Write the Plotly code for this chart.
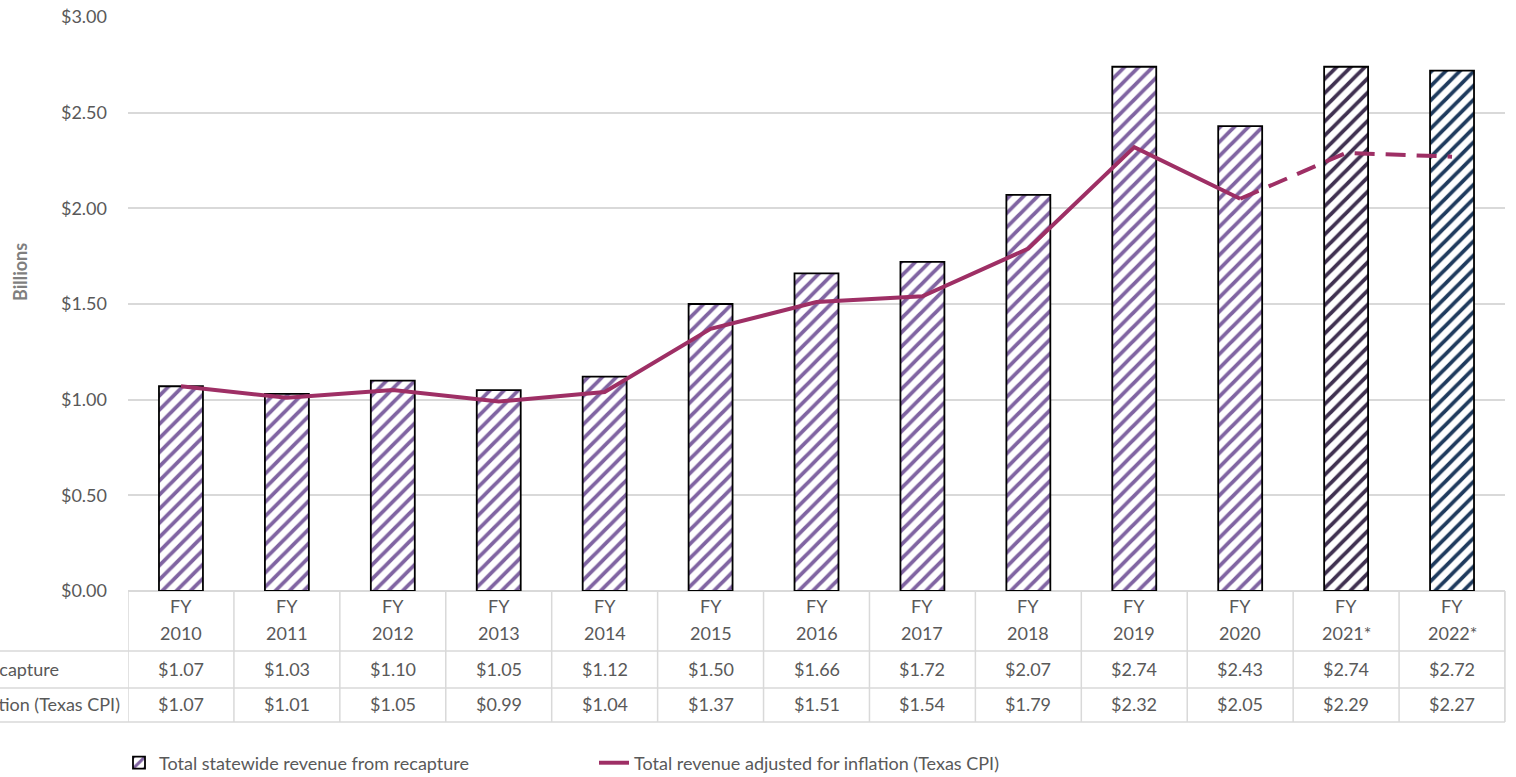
import plotly.graph_objects as go

years = ["FY<br>2010", "FY<br>2011", "FY<br>2012", "FY<br>2013", "FY<br>2014", "FY<br>2015",
         "FY<br>2016", "FY<br>2017", "FY<br>2018", "FY<br>2019", "FY<br>2020", "FY<br>2021*", "FY<br>2022*"]
recapture = [1.07, 1.03, 1.10, 1.05, 1.12, 1.50, 1.66, 1.72, 2.07, 2.74, 2.43, 2.74, 2.72]
adjusted = [1.07, 1.01, 1.05, 0.99, 1.04, 1.37, 1.51, 1.54, 1.79, 2.32, 2.05, 2.29, 2.27]
bar_colors = ["#8064A2"] * 11 + ["#403151", "#1F3B5E"]
series_names = ["Total statewide revenue from recapture",
                "Total revenue adjusted for inflation (Texas CPI)"]

FONT = "Lato"
TXT = "#595959"
GRID = "#D9D9D9"
LINE = "#9E2F65"
FS = 18

W, H = 1516, 777
L, R, T, B = 128, 11, 17, 186
pw, ph = W - L - R, H - T - B

def py(p):  # pixel y -> paper y
    return (H - B - p) / ph

def px(p):
    return (p - L) / pw

idx = list(range(len(years)))

fig = go.Figure()
fig.add_trace(go.Bar(
    x=idx, y=recapture, name=series_names[0],
    marker=dict(color="white", line=dict(color="black", width=1.8),
                pattern=dict(shape="/", fgcolor=bar_colors, bgcolor="white", fgopacity=1,
                             size=10, solidity=0.38, fillmode="replace")),
    showlegend=True,
))
fig.add_trace(go.Scatter(
    x=idx[:11], y=adjusted[:11], name=series_names[1], mode="lines",
    line=dict(color=LINE, width=4), showlegend=True,
))
fig.add_trace(go.Scatter(
    x=idx[10:], y=adjusted[10:], name=series_names[1], mode="lines",
    line=dict(color=LINE, width=4, dash="20px,11px"), showlegend=False,
))

shapes = []
annotations = []
# table grid
row_tops = [H - B, 651, 688, 722]
for yy in row_tops[1:]:
    shapes.append(dict(type="line", xref="paper", yref="paper", x0=px(0), x1=1,
                       y0=py(yy), y1=py(yy), line=dict(color=GRID, width=1.5)))
for i in range(len(years) + 1):
    shapes.append(dict(type="line", xref="x", yref="paper", x0=i - 0.5, x1=i - 0.5,
                       y0=0, y1=py(722), line=dict(color=GRID, width=1.5)))
shapes.append(dict(type="line", xref="paper", yref="paper", x0=1, x1=1,
                   y0=0, y1=py(722), line=dict(color=GRID, width=1.5)))

fnt = dict(family=FONT, size=FS, color=TXT)
for i, yr in enumerate(years):
    top, bot = yr.split("<br>")
    annotations.append(dict(x=i, y=py(606), xref="x", yref="paper", text=top,
                            showarrow=False, font=fnt, xanchor="center", yanchor="middle"))
    annotations.append(dict(x=i, y=py(633), xref="x", yref="paper", text=bot,
                            showarrow=False, font=fnt, xanchor="center", yanchor="middle"))
    annotations.append(dict(x=i, y=py(669), xref="x", yref="paper", text=f"${recapture[i]:.2f}",
                            showarrow=False, font=fnt, xanchor="center", yanchor="middle"))
    annotations.append(dict(x=i, y=py(704), xref="x", yref="paper", text=f"${adjusted[i]:.2f}",
                            showarrow=False, font=fnt, xanchor="center", yanchor="middle"))
annotations.append(dict(x=px(61), y=py(669), xref="paper", yref="paper", text=series_names[0],
                        showarrow=False, font=fnt, xanchor="right", yanchor="middle"))
annotations.append(dict(x=px(122), y=py(704), xref="paper", yref="paper", text=series_names[1],
                        showarrow=False, font=fnt, xanchor="right", yanchor="middle"))
annotations.append(dict(x=px(20), y=py(272), xref="paper", yref="paper", text="<b>Billions</b>",
                        showarrow=False, font=dict(family=FONT, size=18, color="#7F7F7F"),
                        textangle=-90, xanchor="center", yanchor="middle"))

fig.update_layout(
    width=W, height=H,
    margin=dict(l=L, r=R, t=T, b=B, pad=0, autoexpand=False),
    paper_bgcolor="white", plot_bgcolor="white",
    font=dict(family=FONT, size=FS, color=TXT),
    bargap=0.585,
    shapes=shapes, annotations=annotations,
    legend=dict(orientation="h", x=px(119), y=py(763), xanchor="left", yanchor="middle",
                font=dict(family=FONT, size=FS, color=TXT), entrywidth=430, bgcolor="rgba(0,0,0,0)"),
    xaxis=dict(range=[-0.5, len(years) - 0.5], showticklabels=False, showgrid=False,
               zeroline=False, showline=False, ticks=""),
    yaxis=dict(range=[0, 3], dtick=0.5, tickformat="$.2f", showgrid=True, gridcolor=GRID,
               gridwidth=1.5, zeroline=True, zerolinecolor=GRID, zerolinewidth=1.5,
               showline=False, ticks="", ticklabelstandoff=20,
               tickfont=dict(family=FONT, size=FS, color=TXT)),
)

fig.write_html("out.html", config={"displayModeBar": False},
               post_script="document.body.style.margin='0';document.body.style.overflow='hidden';")
